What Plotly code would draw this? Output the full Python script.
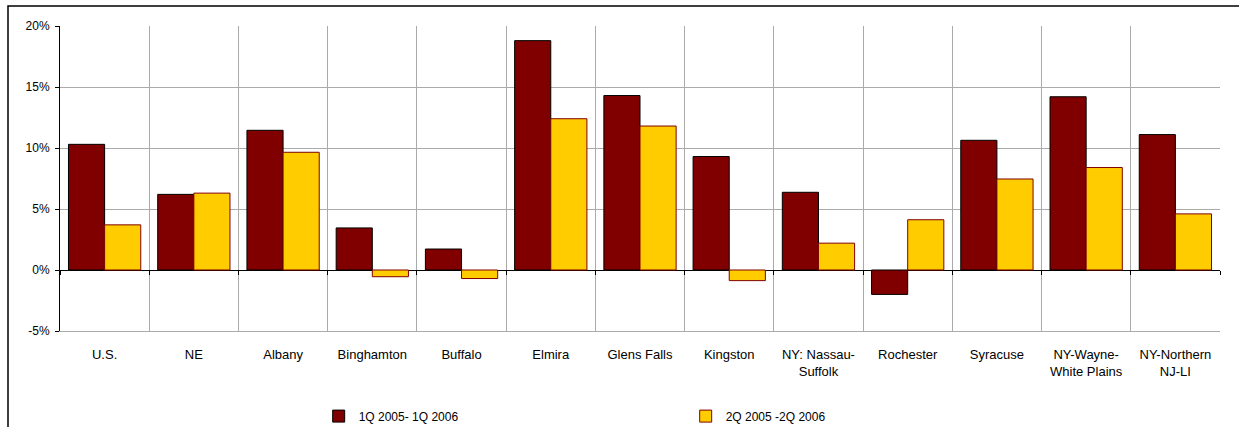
import plotly.graph_objects as go

categories = ["U.S.", "NE", "Albany", "Binghamton", "Buffalo", "Elmira", "Glens Falls",
              "Kingston", "NY: Nassau-<br>Suffolk", "Rochester", "Syracuse",
              "NY-Wayne-<br>White Plains", "NY-Northern<br>NJ-LI"]
series1_name = "1Q 2005- 1Q 2006"
series1 = [10.3, 6.2, 11.45, 3.45, 1.72, 18.8, 14.3, 9.3, 6.37, -2.0, 10.63, 14.2, 11.1]
series2_name = "2Q 2005 -2Q 2006"
series2 = [3.7, 6.3, 9.65, -0.55, -0.7, 12.4, 11.8, -0.87, 2.2, 4.12, 7.46, 8.4, 4.6]
y_ticks = [-5, 0, 5, 10, 15, 20]
y_labels = ["-5%", "0%", "5%", "10%", "15%", "20%"]

FONT = "Liberation Sans, Arial, sans-serif"

fig = go.Figure()
fig.add_trace(go.Bar(x=categories, y=series1, name=series1_name,
                     marker=dict(color="#800000", line=dict(color="#000000", width=1))))
fig.add_trace(go.Bar(x=categories, y=series2, name=series2_name,
                     marker=dict(color="#FFCC00", line=dict(color="#800000", width=1))))
# helper trace for the tick marks on the zero line
fig.add_trace(go.Scatter(x=categories, y=[0] * len(categories), xaxis="x2", mode="markers",
                         marker=dict(opacity=0), hoverinfo="skip", showlegend=False))

fig.update_layout(
    width=1239, height=427,
    margin=dict(l=60, r=19, t=26, b=96, autoexpand=False),
    paper_bgcolor="white", plot_bgcolor="white",
    font=dict(family=FONT, size=12, color="black"),
    barmode="group", bargap=0.19, bargroupgap=0,
    showlegend=True,
    legend=dict(orientation="h", x=0.223, xanchor="left", y=-0.279, yanchor="middle",
                entrywidth=322, entrywidthmode="pixels", font=dict(size=12),
                bgcolor="rgba(0,0,0,0)"),
    xaxis=dict(type="category", categoryorder="array", categoryarray=categories,
               range=[-0.5, len(categories) - 0.5], tickson="boundaries",
               showgrid=True, gridcolor="#aaaaaa", gridwidth=1,
               showline=True, linecolor="#aaaaaa", linewidth=1,
               ticks="", ticklabelstandoff=11, tickfont=dict(size=13), automargin=False),
    xaxis2=dict(type="category", categoryorder="array", categoryarray=categories,
                range=[-0.5, len(categories) - 0.5], tickson="boundaries",
                overlaying="x", anchor="free", position=0.2,
                showgrid=False, showline=False, showticklabels=False,
                ticks="outside", ticklen=4, tickcolor="black", tickwidth=1),
    yaxis=dict(range=[-5, 20], tickvals=y_ticks, ticktext=y_labels,
               showgrid=True, gridcolor="#aaaaaa", gridwidth=1,
               zeroline=True, zerolinecolor="black", zerolinewidth=1,
               showline=True, linecolor="black", linewidth=1,
               ticks="outside", ticklen=4, tickcolor="black",
               ticklabelstandoff=3, tickfont=dict(size=12), automargin=False),
    shapes=[dict(type="rect", xref="paper", yref="paper",
                 x0=-52 / 1160, x1=1.2, y0=-0.6, y1=1 + 20 / 305,
                 line=dict(color="black", width=1.5), layer="below")],
)

fig.write_html("out.html")
